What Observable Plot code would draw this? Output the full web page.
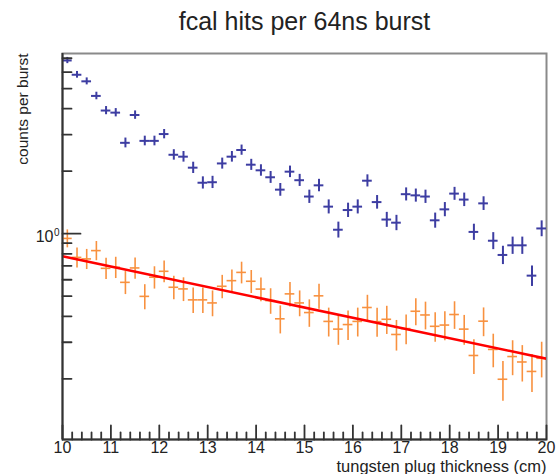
<!DOCTYPE html>
<html><head><meta charset="utf-8">
<script src="https://cdn.jsdelivr.net/npm/d3@7"></script>
<script src="https://cdn.jsdelivr.net/npm/@observablehq/plot@0.6"></script>
<style>html,body{margin:0;padding:0;background:#fff;} #chart svg{display:block;}</style>
</head><body><div id="chart"></div>
<script>
const title = "fcal hits per 64ns burst";
const xTitle = "tungsten plug thickness (cm)";
const yTitle = "counts per burst";

const binCenters = [10.1,10.3,10.5,10.7,10.9,11.1,11.3,11.5,11.7,11.9,
  12.1,12.3,12.5,12.7,12.9,13.1,13.3,13.5,13.7,13.9,
  14.1,14.3,14.5,14.7,14.9,15.1,15.3,15.5,15.7,15.9,
  16.1,16.3,16.5,16.7,16.9,17.1,17.3,17.5,17.7,17.9,
  18.1,18.3,18.5,18.7,18.9,19.1,19.3,19.5,19.7,19.9];
const halfBin = 0.1;

const blueCounts = [6.83,5.83,5.42,4.61,3.92,3.83,2.74,3.73,2.80,2.80,
  3.02,2.40,2.35,2.08,1.76,1.77,2.18,2.35,2.53,2.15,
  2.02,1.87,1.63,1.99,1.81,1.51,1.71,1.35,1.045,1.30,
  1.35,1.80,1.42,1.17,1.13,1.55,1.53,1.51,1.16,1.31,
  1.56,1.46,1.02,1.40,0.925,0.79,0.879,0.879,0.628,1.06];
const blueErrors = [0.235,0.217,0.21,0.193,0.178,0.176,0.149,0.174,0.15,0.15,
  0.156,0.139,0.138,0.13,0.119,0.12,0.133,0.138,0.143,0.132,
  0.128,0.123,0.115,0.127,0.121,0.111,0.118,0.105,0.092,0.103,
  0.105,0.121,0.107,0.097,0.096,0.112,0.111,0.111,0.097,0.103,
  0.112,0.109,0.091,0.106,0.087,0.08,0.084,0.084,0.071,0.093];

const orangeCounts = [0.949,0.769,0.756,0.829,0.681,0.689,0.583,0.684,0.499,0.617,
  0.659,0.552,0.542,0.480,0.480,0.464,0.558,0.594,0.651,0.590,
  0.541,0.476,0.389,0.513,0.464,0.417,0.502,0.378,0.347,0.365,
  0.378,0.441,0.377,0.387,0.327,0.349,0.423,0.406,0.358,0.363,
  0.408,0.347,0.259,0.379,0.277,0.199,0.256,0.241,0.217,0.251];
const orangeErrors = [0.094,0.085,0.084,0.088,0.08,0.081,0.074,0.08,0.069,0.076,
  0.079,0.072,0.071,0.067,0.067,0.066,0.072,0.075,0.078,0.075,
  0.071,0.067,0.06,0.069,0.066,0.063,0.069,0.06,0.057,0.059,
  0.06,0.064,0.06,0.06,0.055,0.057,0.063,0.062,0.058,0.058,
  0.062,0.057,0.049,0.06,0.051,0.043,0.049,0.048,0.045,0.049];

const fitX = [10, 20];
const fitY = [0.778, 0.25];

const xDomain = [10, 20];
const yDomain = [0.102, 7.38];
const xMajorTicks = [10,11,12,13,14,15,16,17,18,19,20];
const xTickLabels = ["10","11","12","13","14","15","16","17","18","19","20"];
const xMinorTicks = d3.range(0, 51).map(k => 10 + k * 0.2).filter(v => Math.abs(v - Math.round(v)) > 1e-6);
const yMajorTicks = [1];
const yMajorBase = ["10"];
const yMajorExp = ["0"];
const yMinorTicks = [0.2,0.3,0.4,0.5,0.6,0.7,0.8,0.9,2,3,4,5,6,7];

const blueColor = "#3d3da2";
const orangeColor = "#f8913f";
const fitColor = "#ff0000";
const axisColor = "#333333";
const textColor = "#222222";

const blue = binCenters.map((x, i) => ({x, v: blueCounts[i], e: blueErrors[i]}));
const orange = binCenters.map((x, i) => ({x, v: orangeCounts[i], e: orangeErrors[i]}));
const fit = fitX.map((x, i) => ({x, y: fitY[i]}));

const tickUp = {draw(ctx, l) { ctx.moveTo(0, 0); ctx.lineTo(0, -l); }};
const tickRight = {draw(ctx, l) { ctx.moveTo(0, 0); ctx.lineTo(l, 0); }};

const chart = Plot.plot({
  width: 556, height: 474,
  marginLeft: 62, marginRight: 10, marginTop: 53, marginBottom: 35,
  style: {fontFamily: "'Liberation Sans', Arial, sans-serif", background: "#fff"},
  x: {domain: xDomain, axis: null},
  y: {type: "log", domain: yDomain, axis: null},
  marks: [
    Plot.frame({stroke: "#8a8a8a", strokeWidth: 2}),
    // data
    Plot.ruleY(blue, {y: "v", x1: d => d.x - halfBin, x2: d => d.x + halfBin, stroke: blueColor, strokeWidth: 2, clip: true}),
    Plot.ruleX(blue, {x: "x", y1: d => d.v - d.e, y2: d => d.v + d.e, stroke: blueColor, strokeWidth: 2, clip: true}),
    Plot.ruleY(orange, {y: "v", x1: d => d.x - halfBin, x2: d => d.x + halfBin, stroke: orangeColor, strokeWidth: 1.6, clip: true}),
    Plot.ruleX(orange, {x: "x", y1: d => d.v - d.e, y2: d => d.v + d.e, stroke: orangeColor, strokeWidth: 1.6, clip: true}),
    Plot.line(fit, {x: "x", y: "y", stroke: fitColor, strokeWidth: 2.6, clip: true}),
    // axes lines
    Plot.ruleX([xDomain[0]], {stroke: axisColor, strokeWidth: 2}),
    Plot.ruleY([yDomain[0]], {stroke: axisColor, strokeWidth: 2}),
    // x ticks
    Plot.vector(xMajorTicks, {x: d => d, frameAnchor: "bottom", length: 14, anchor: "start", shape: tickUp, stroke: axisColor, strokeWidth: 1.8}),
    Plot.vector(xMinorTicks, {x: d => d, frameAnchor: "bottom", length: 7, anchor: "start", shape: tickUp, stroke: axisColor, strokeWidth: 1.8}),
    // y ticks
    Plot.vector(yMajorTicks, {y: d => d, frameAnchor: "left", length: 18, anchor: "start", shape: tickRight, stroke: axisColor, strokeWidth: 1.8}),
    Plot.vector(yMinorTicks, {y: d => d, frameAnchor: "left", length: 9, anchor: "start", shape: tickRight, stroke: axisColor, strokeWidth: 1.8}),
    // tick labels
    Plot.text(xMajorTicks, {x: d => d, frameAnchor: "bottom", text: (d, i) => xTickLabels[i], lineAnchor: "top", dy: 2.6, fontSize: 16, fill: textColor}),
    Plot.text(yMajorTicks, {y: d => d, frameAnchor: "left", text: (d, i) => yMajorBase[i], textAnchor: "end", lineAnchor: "bottom", dx: -9, dy: 8.7, fontSize: 16, fill: textColor}),
    Plot.text(yMajorTicks, {y: d => d, frameAnchor: "left", text: (d, i) => yMajorExp[i], textAnchor: "start", lineAnchor: "bottom", dx: -8.5, dy: 2, fontSize: 10, fill: textColor}),
    // titles
    Plot.text([title], {frameAnchor: "top", lineAnchor: "bottom", dy: -23.5, fontSize: 25, fill: textColor}),
    Plot.text([xTitle], {frameAnchor: "bottom-right", textAnchor: "end", lineAnchor: "bottom", dy: 32, fontSize: 16.5, fill: textColor}),
    Plot.text([yTitle], {frameAnchor: "top-left", textAnchor: "end", lineAnchor: "bottom", rotate: -90, dx: -35, dy: 0, fontSize: 15.5, fill: textColor})
  ]
});
document.getElementById("chart").appendChild(chart);
</script>
</body></html>
